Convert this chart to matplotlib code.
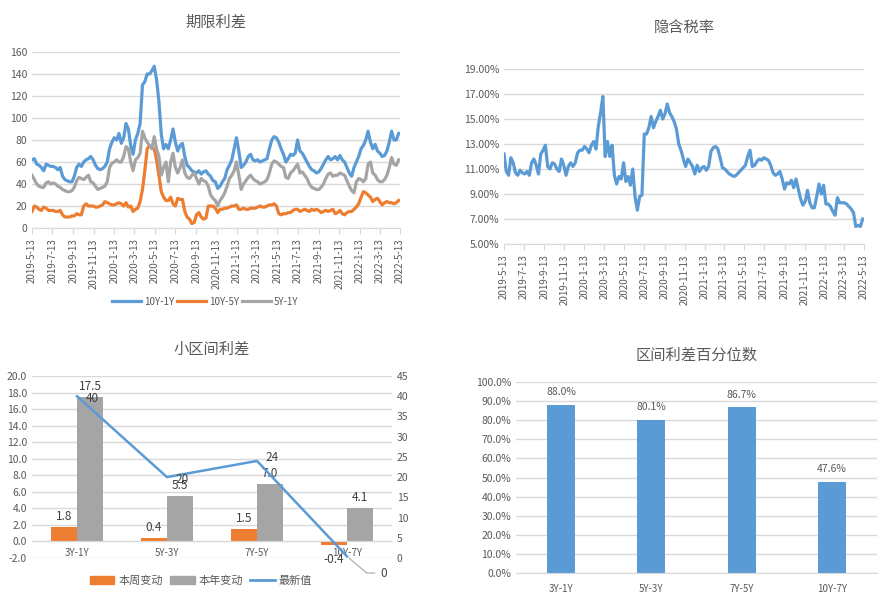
import numpy as np
import pandas as pd
import matplotlib
matplotlib.use("Agg")
import matplotlib.pyplot as plt
from matplotlib.ticker import FuncFormatter, MultipleLocator
from matplotlib.lines import Line2D
from matplotlib.patches import Patch

plt.rcParams['font.family'] = ['Noto Sans CJK SC', 'DejaVu Sans']
plt.rcParams['axes.unicode_minus'] = False

# ---- data ----
dates = pd.date_range('2019-05-13', periods=157, freq='7D')

spread_10y_1y = [
    62, 63, 58, 57, 55, 52, 58, 57, 56, 56,
    55, 53, 55, 47, 44, 43, 42, 42, 47, 55,
    58, 56, 60, 62, 63, 65, 62, 57, 54, 53,
    54, 56, 60, 72, 78, 82, 80, 86, 77, 82,
    95, 90, 75, 67, 80, 86, 95, 130, 133, 140,
    140, 143, 147, 135, 115, 85, 72, 76, 72, 80,
    90, 78, 70, 75, 77, 65, 57, 55, 52, 51,
    50, 52, 49, 51, 52, 49, 47, 43, 42, 36,
    38, 42, 45, 53, 57, 62, 72, 82, 70, 55,
    57, 60, 65, 67, 62, 61, 62, 60, 61, 62,
    63, 72, 80, 83, 82, 78, 72, 67, 60, 63,
    67, 66, 68, 80, 70, 68, 64, 60, 56, 53,
    52, 50, 51, 54, 58, 62, 65, 62, 63, 65,
    62, 66, 62, 60, 55, 50, 47, 55, 60, 65,
    72, 75, 80, 88, 78, 72, 76, 70, 68, 65,
    66, 70, 78, 88, 80, 80, 86]

spread_10y_5y = [
    15, 20, 19, 17, 16, 19, 18, 16, 16, 16,
    15, 15, 16, 12, 10, 10, 10, 11, 11, 13,
    12, 12, 20, 22, 20, 20, 20, 19, 19, 20,
    21, 24, 23, 22, 21, 21, 22, 23, 22, 20,
    23, 19, 20, 15, 17, 18, 24, 35, 52, 72,
    75, 73, 72, 62, 48, 33, 28, 25, 25, 28,
    22, 20, 27, 26, 26, 15, 10, 8, 4, 5,
    12, 14, 10, 8, 9, 20, 20, 20, 18, 14,
    17, 17, 18, 18, 19, 20, 20, 21, 17, 17,
    18, 17, 17, 18, 18, 18, 19, 20, 19, 19,
    20, 21, 21, 22, 20, 13, 12, 13, 13, 14,
    14, 16, 17, 17, 15, 16, 17, 16, 15, 17,
    16, 17, 16, 14, 15, 16, 15, 16, 17, 13,
    14, 16, 13, 12, 14, 15, 15, 17, 19, 22,
    28, 33, 32, 30, 28, 24, 26, 27, 24, 21,
    23, 24, 23, 23, 22, 23, 25]

spread_5y_1y = [
    48, 44, 40, 38, 37, 37, 41, 42, 40, 41,
    40, 38, 37, 35, 34, 33, 33, 34, 37, 43,
    46, 45, 44, 46, 48, 42, 41, 38, 35, 36,
    37, 38, 42, 55, 59, 60, 62, 60, 60, 65,
    74, 72, 60, 52, 62, 64, 68, 88, 82, 78,
    75, 72, 83, 72, 65, 48, 55, 60, 42, 60,
    68, 55, 50, 55, 62, 50, 46, 45, 48, 50,
    45, 40, 45, 43, 42, 38, 30, 27, 25, 20,
    25, 28, 32, 38, 45, 48, 52, 60, 48, 35,
    40, 43, 46, 48, 45, 43, 42, 40, 41, 42,
    44, 50, 58, 61, 60, 58, 56, 55, 46, 45,
    50, 52, 55, 58, 50, 51, 48, 45, 40, 37,
    36, 35, 35, 37, 40, 45, 49, 50, 47, 48,
    48, 50, 49, 48, 43, 38, 34, 32, 42, 45,
    44, 42, 45, 58, 60, 50, 48, 44, 42, 42,
    44, 48, 55, 64, 58, 57, 62]

implied_tax = [
    12.2, 10.8, 10.5, 11.9, 11.5, 10.7, 10.5, 10.9, 10.7, 10.6,
    10.8, 10.5, 11.5, 11.8, 11.3, 10.6, 12.2, 12.5, 12.9, 11.2,
    11.0, 11.5, 11.4, 11.0, 10.8, 11.8, 11.3, 10.5, 11.2, 11.5,
    11.2, 11.5, 12.3, 12.5, 12.5, 12.8, 12.6, 12.3, 12.9, 13.2,
    12.6, 14.4, 15.5, 16.8, 12.0, 13.2, 12.0, 12.9, 10.5, 9.8,
    10.4, 10.2, 11.5, 10.0, 10.4, 9.7, 11.0, 8.8, 7.7, 8.8,
    8.9, 13.8, 13.8, 14.3, 15.2, 14.3, 14.8, 15.2, 15.7, 15.0,
    15.4, 16.2, 15.5, 15.2, 14.8, 14.2, 13.0, 12.5, 11.8, 11.2,
    11.8, 11.5, 11.2, 10.6, 11.3, 10.8, 11.1, 11.2, 10.9, 11.2,
    12.4, 12.7, 12.8, 12.6, 11.9, 11.1, 11.0, 10.8, 10.6, 10.5,
    10.4, 10.5, 10.7, 10.9, 11.1, 11.3, 12.0, 12.5, 11.2, 11.3,
    11.6, 11.8, 11.7, 11.9, 11.8, 11.7, 11.3, 10.7, 10.5, 10.6,
    10.8, 10.2, 9.4, 9.9, 9.8, 10.1, 9.5, 10.2, 9.4, 8.6,
    8.1, 8.4, 9.3, 8.3, 7.9, 7.9, 8.8, 9.8, 9.0, 9.7,
    8.2, 8.2, 8.0, 7.6, 7.3, 8.7, 8.3, 8.3, 8.3, 8.2,
    8.0, 7.8, 7.5, 6.4, 6.5, 6.4, 7.0]

cats = ['3Y-1Y', '5Y-3Y', '7Y-5Y', '10Y-7Y']
week_chg = [1.8, 0.4, 1.5, -0.4]
year_chg = [17.5, 5.5, 7.0, 4.1]
latest = [40, 20, 24, 0.4]
pct_rank = [88.0, 80.1, 86.7, 47.6]

BLUE = '#5B9BD5'
ORANGE = '#ED7D31'
GRAY = '#A5A5A5'
GRID = '#D9D9D9'
TXT = '#595959'

W, H = 894, 605
fig = plt.figure(figsize=(W / 100, H / 100), dpi=100)


def box(x0, y0, x1, y1):
    # pixel box -> figure fraction
    return [x0 / W, 1 - y1 / H, (x1 - x0) / W, (y1 - y0) / H]


def style(ax):
    for s in ['top', 'right', 'left']:
        ax.spines[s].set_visible(False)
    ax.spines['bottom'].set_color(GRID)
    ax.grid(axis='y', color=GRID, lw=1.0)
    ax.set_axisbelow(True)
    ax.tick_params(axis='y', length=0, colors=TXT, labelsize=7.5)
    ax.tick_params(axis='x', colors=TXT, labelsize=7)


# every two months on the 13th
tick_dates = pd.date_range('2019-05-01', '2022-05-01', freq='2MS') + pd.Timedelta(days=12)
tick_labels = [f"{d.year}-{d.month}-{d.day}" for d in tick_dates]

# ---- top left: 期限利差 ----
ax1 = fig.add_axes(box(32, 52, 400, 228))
style(ax1)
ax1.plot(dates, spread_10y_1y, color=BLUE, lw=2.3, label='10Y-1Y')
ax1.plot(dates, spread_10y_5y, color=ORANGE, lw=2.3, label='10Y-5Y')
ax1.plot(dates, spread_5y_1y, color=GRAY, lw=2.3, label='5Y-1Y')
ax1.set_ylim(0, 160)
ax1.yaxis.set_major_locator(MultipleLocator(20))
ax1.set_xlim(tick_dates[0], tick_dates[-1])
ax1.set_xticks(tick_dates)
ax1.set_xticklabels(tick_labels, rotation=90)
ax1.tick_params(axis='x', length=4, color=GRID)
ax1.set_title('期限利差', fontsize=11, color=TXT, pad=18)
ax1.legend(loc='upper center', bbox_to_anchor=(0.47, -0.34), ncol=3, frameon=False,
           fontsize=7, labelcolor=TXT, handlelength=3, columnspacing=0.3, handletextpad=0.3)

# ---- top right: 隐含税率 ----
ax2 = fig.add_axes(box(504, 69, 864, 244))
style(ax2)
ax2.plot(dates, implied_tax, color=BLUE, lw=2.3)
ax2.set_ylim(5, 19)
ax2.set_yticks(np.arange(5, 20, 2))
ax2.yaxis.set_major_formatter(FuncFormatter(lambda v, p: f"{v:.2f}%"))
ax2.set_xlim(tick_dates[0], tick_dates[-1])
ax2.set_xticks(tick_dates)
ax2.set_xticklabels(tick_labels, rotation=90)
ax2.tick_params(axis='x', length=4, color=GRID)
ax2.set_title('隐含税率', fontsize=11, color=TXT, pad=26)

# ---- bottom left: 小区间利差 ----
ax3 = fig.add_axes(box(32, 376, 392, 558))
style(ax3)
x = np.arange(len(cats))
bw = 0.29
ax3.bar(x - bw / 2, week_chg, bw, color=ORANGE, label='本周变动')
ax3.bar(x + bw / 2, year_chg, bw, color=GRAY, label='本年变动')
ax3.set_ylim(-2, 20)
ax3.set_xlim(-0.5, 3.5)
ax3.yaxis.set_major_locator(MultipleLocator(2))
ax3.yaxis.set_major_formatter(FuncFormatter(lambda v, p: f"{v:.1f}"))
ax3.spines['bottom'].set_position(('data', 0))
ax3.set_xticks(x)
ax3.set_xticklabels(cats)
ax3.tick_params(axis='x', length=0, pad=5)
for i, v in enumerate(week_chg):
    off = 5 if v >= 0 else -13
    ax3.annotate(f"{v:.1f}", (x[i] - bw / 2, v), xytext=(0, off),
                 textcoords='offset points', ha='center', fontsize=8.5, color='#404040')
for i, v in enumerate(year_chg):
    ax3.annotate(f"{v:.1f}", (x[i] + bw / 2, v), xytext=(0, 5),
                 textcoords='offset points', ha='center', fontsize=8.5, color='#404040')
ax3.set_title('小区间利差', fontsize=11, color=TXT, pad=16)

ax3b = ax3.twinx()
ax3b.plot(x, latest, color=BLUE, lw=1.8, label='最新值')
ax3b.set_ylim(0, 45)
ax3b.yaxis.set_major_locator(MultipleLocator(5))
for s in ['top', 'right', 'left', 'bottom']:
    ax3b.spines[s].set_visible(False)
ax3b.tick_params(axis='y', length=0, colors=TXT, labelsize=7.5)
for i in range(3):
    ax3b.annotate(f"{latest[i]:.0f}", (x[i], latest[i]), xytext=(6, -4 if i < 2 else 0),
                  textcoords='offset points', ha='left', fontsize=8.5, color='#404040')
ax3b.annotate(f"{latest[3]:.0f}", (x[3], latest[3]), xytext=(24, -12),
              textcoords='offset points', ha='left', va='center', fontsize=8.5, color='#404040',
              arrowprops=dict(arrowstyle='-', color='#A6A6A6', lw=0.8,
                              connectionstyle='angle,angleA=0,angleB=-40,rad=0'),
              annotation_clip=False)

handles = [Patch(color=ORANGE), Patch(color=GRAY), Line2D([], [], color=BLUE, lw=2)]
ax3.legend(handles, ['本周变动', '本年变动', '最新值'], loc='upper center',
           bbox_to_anchor=(0.47, -0.04), ncol=3, frameon=False, fontsize=8,
           labelcolor=TXT, handlelength=2.2, columnspacing=0.6, handletextpad=0.4)

# ---- bottom right: 区间利差百分位数 ----
ax4 = fig.add_axes(box(516, 382, 877, 573))
style(ax4)
ax4.bar(x, pct_rank, 0.31, color=BLUE)
ax4.set_ylim(0, 100)
ax4.set_xlim(-0.5, 3.5)
ax4.yaxis.set_major_locator(MultipleLocator(10))
ax4.yaxis.set_major_formatter(FuncFormatter(lambda v, p: f"{v:.1f}%"))
ax4.set_xticks(x)
ax4.set_xticklabels(cats)
ax4.tick_params(axis='x', length=0, pad=8)
for i, v in enumerate(pct_rank):
    ax4.annotate(f"{v:.1f}%", (x[i], v), xytext=(0, 7), textcoords='offset points',
                 ha='center', fontsize=7.5, color=TXT)
ax4.set_title('区间利差百分位数', fontsize=11, color=TXT, pad=16)

fig.savefig('out.png', dpi=100)
